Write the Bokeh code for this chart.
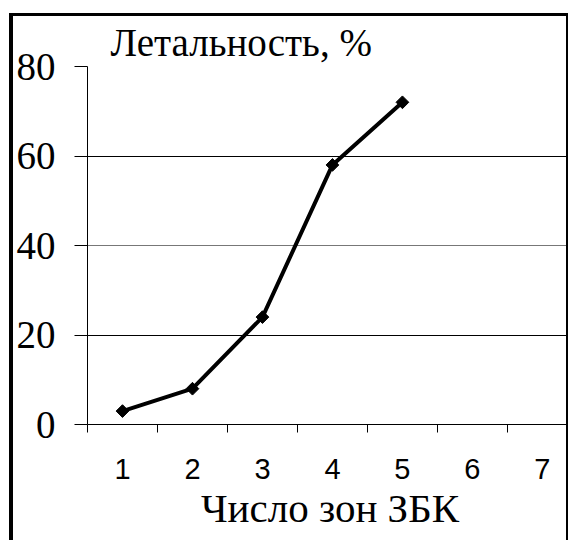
from bokeh.plotting import figure
from bokeh.models import FixedTicker, Grid, LinearAxis, Range1d
from bokeh.embed import file_html
from bokeh.resources import INLINE
import numpy as np

zones = [1, 2, 3, 4, 5]
lethality = [3, 8, 24, 58, 72]
x_ticks = [1, 2, 3, 4, 5, 6, 7]
x_bounds = [0.5, 1.5, 2.5, 3.5, 4.5, 5.5, 6.5, 7.5]
y_ticks = [0, 20, 40, 60, 80]

SERIF = "Liberation Serif"
SANS = "Liberation Sans"

p = figure(width=559, height=527, output_backend="svg", toolbar_location=None,
           x_range=Range1d(0.5, 7.43), y_range=Range1d(0, 80),
           x_axis_location=None, y_axis_location=None,
           min_border_left=73, min_border_right=0, min_border_top=48, min_border_bottom=119,
           title="Летальность, %")
p.styles = {"border-left": "4px solid black", "border-top": "3px solid black",
            "border-right": "2px solid black", "margin-left": "9px", "margin-top": "13px"}
p.outline_line_color = None
p.background_fill_color = "white"
p.border_fill_color = "white"

p.title.text_font = SERIF
p.title.text_font_size = "39px"
p.title.text_font_style = "normal"
p.title.text_color = "black"
p.title.align = "left"
p.title.offset = 23
p.title.standoff = 5

p.xgrid.visible = False
p.ygrid.visible = False
for ticks, col in [([20, 60], "black"), ([40], "#777777"), ([80], "#c8c8c8")]:
    g = Grid(dimension=1, ticker=FixedTicker(ticks=ticks), grid_line_color=col, grid_line_width=1)
    p.add_layout(g)

yax = LinearAxis(ticker=FixedTicker(ticks=y_ticks, minor_ticks=[]))
yax.axis_line_color = "black"
yax.major_tick_line_color = "black"
yax.major_tick_out = 13
yax.major_tick_in = 0
yax.minor_tick_line_color = None
yax.major_label_text_font = SERIF
yax.major_label_text_font_size = "39px"
yax.major_label_text_color = "black"
yax.major_label_standoff = 19
p.add_layout(yax, "left")

xax = LinearAxis(ticker=FixedTicker(ticks=x_ticks, minor_ticks=x_bounds))
xax.axis_line_color = "black"
xax.major_tick_line_color = None
xax.major_tick_out = 0
xax.major_tick_in = 0
xax.minor_tick_line_color = "black"
xax.minor_tick_out = 8
xax.minor_tick_in = 0
xax.major_label_text_font = SANS
xax.major_label_text_font_size = "29px"
xax.major_label_text_color = "black"
xax.major_label_standoff = 26
xax.axis_label = "Число зон ЗБК"
xax.axis_label_text_font = SERIF
xax.axis_label_text_font_size = "41px"
xax.axis_label_text_font_style = "normal"
xax.axis_label_text_color = "black"
xax.axis_label_standoff = 3
p.add_layout(xax, "below")

p.line(zones, lethality, line_color="black", line_width=4)
p.scatter(zones, lethality, marker="square", angle=np.pi / 4, size=9,
          fill_color="black", line_color="black")

open("out.html", "w").write(file_html(p, INLINE))
